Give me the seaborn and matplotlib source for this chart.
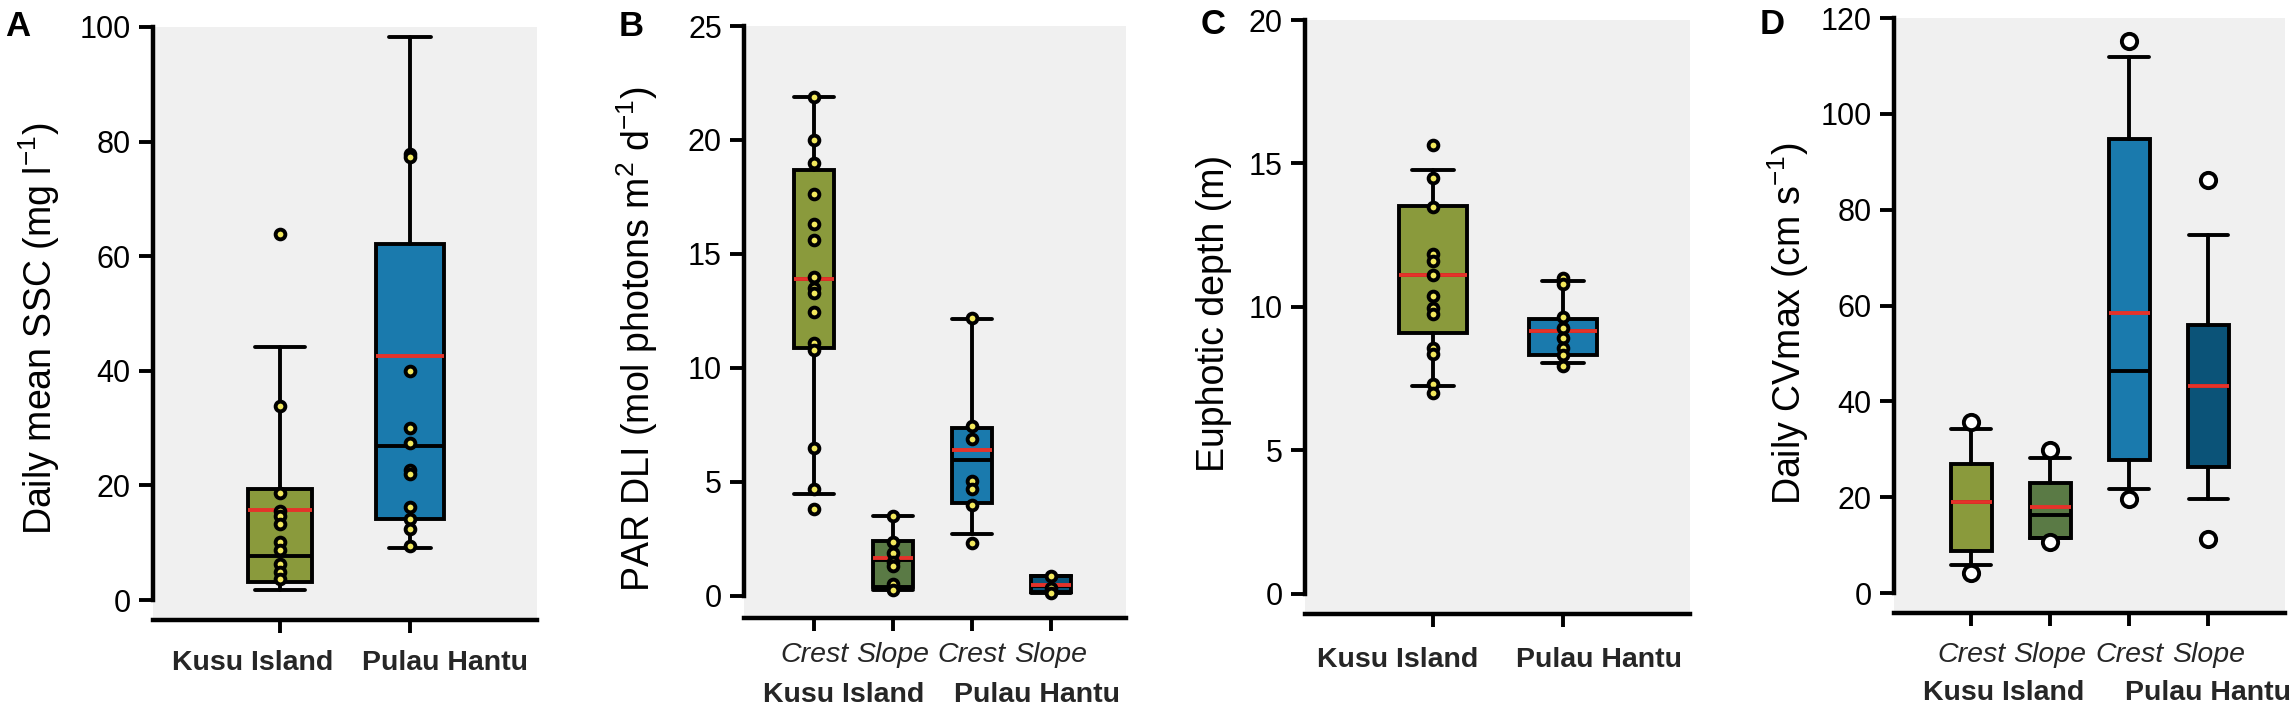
import matplotlib
matplotlib.use('Agg')
import matplotlib.pyplot as plt
import seaborn as sns
import numpy as np
import pandas as pd

sns.set_theme(style='white')
plt.rcParams['font.family'] = ['Liberation Sans', 'DejaVu Sans']
plt.rcParams['mathtext.fontset'] = 'custom'
plt.rcParams['mathtext.rm'] = 'Liberation Sans'
plt.rcParams['mathtext.it'] = 'Liberation Sans:italic'
plt.rcParams['mathtext.default'] = 'regular'

# ---------------- Panel A: Daily mean SSC ----------------
A_groups = ['Kusu Island', 'Pulau Hantu']
A_whislo = [1.7, 9.1]
A_q1 = [3.2, 14.1]
A_med = [7.7, 26.8]
A_mean = [15.7, 42.5]
A_q3 = [19.3, 62.1]
A_whishi = [44.1, 98.3]
A_pts_kusu = [63.9, 33.9, 18.7, 15.6, 14.7, 13.2, 10.2, 8.8, 6.3, 4.9, 3.7]
A_pts_hantu = [77.9, 77.3, 39.9, 30.1, 27.4, 22.7, 22.0, 16.2, 14.1, 12.4, 9.4]

# ---------------- Panel B: PAR DLI ----------------
B_groups = ['Kusu Crest', 'Kusu Slope', 'Hantu Crest', 'Hantu Slope']
B_ticklabels = ['Crest', 'Slope', 'Crest', 'Slope']
B_whislo = [4.47, 0.28, 2.72, 0.14]
B_q1 = [10.86, 0.38, 4.10, 0.18]
B_med = [13.9, 1.6, 5.98, 0.45]
B_mean = [13.9, 1.67, 6.41, 0.48]
B_q3 = [18.7, 2.4, 7.37, 0.87]
B_whishi = [21.9, 3.5, 12.15, 0.87]
B_pts_kusu_crest = [21.9, 20.0, 19.0, 17.65, 16.3, 15.6, 14.0, 13.5, 13.3, 12.45, 11.1, 10.8, 6.5, 4.7, 3.8]
B_pts_kusu_slope = [3.5, 2.36, 1.9, 1.5, 1.33, 0.54, 0.28]
B_pts_hantu_crest = [12.2, 7.45, 6.9, 5.06, 4.7, 4.0, 2.32]
B_pts_hantu_slope = [0.87, 0.34, 0.14]

# ---------------- Panel C: Euphotic depth ----------------
C_groups = ['Kusu Island', 'Pulau Hantu']
C_whislo = [7.26, 8.06]
C_q1 = [9.08, 8.33]
C_med = [11.1, 9.16]
C_mean = [11.1, 9.16]
C_q3 = [13.53, 9.59]
C_whishi = [14.76, 10.9]
C_pts_kusu = [15.63, 14.5, 13.49, 11.85, 11.6, 11.1, 10.38, 9.98, 9.75, 8.56, 8.37, 7.3, 7.02]
C_pts_hantu = [11.0, 10.8, 9.64, 9.27, 8.91, 8.56, 8.33, 7.93]

# ---------------- Panel D: Daily CVmax ----------------
D_groups = ['Kusu Crest', 'Kusu Slope', 'Hantu Crest', 'Hantu Slope']
D_ticklabels = ['Crest', 'Slope', 'Crest', 'Slope']
D_whislo = [5.86, 11.5, 21.7, 19.7]
D_q1 = [8.7, 11.5, 27.7, 26.2]
D_med = [18.9, 16.35, 46.3, 43.3]
D_mean = [18.9, 17.96, 58.4, 43.3]
D_q3 = [26.9, 22.9, 94.8, 56.0]
D_whishi = [34.3, 28.1, 111.8, 74.7]
D_fliers = [[35.7, 4.25], [29.8, 10.6], [115.3, 19.7], [86.2, 11.2]]

# ---------------- styling ----------------
OLIVE = '#8a9a3c'
GREEN = '#5a7a45'
BLUE = '#1a7aad'
DBLUE = '#0b5378'
BG = '#f0f0f0'
YELLOW = '#f2e85c'
RED = '#e5332a'
LW = 2.8

W, H = 2291, 709
fig = plt.figure(figsize=(W / 100, H / 100), dpi=100)


def rect(l, r, t, b):
    return [l / W, 1 - b / H, (r - l) / W, (b - t) / H]


def panel(r, groups, whislo, q1, med, mean, q3, whishi, colors, ymax, ystep,
          ybot, xlim, widths, capw, points=None, fliers=None):
    ax = fig.add_axes(r)
    ax.set_facecolor(BG)
    n = len(groups)
    stats = []
    for i in range(n):
        stats.append(dict(whislo=whislo[i], q1=q1[i], med=med[i], mean=mean[i],
                          q3=q3[i], whishi=whishi[i],
                          fliers=(fliers[i] if fliers else [])))
    bp = ax.bxp(stats, positions=list(range(n)), widths=widths, capwidths=capw,
                patch_artist=True, showmeans=True, meanline=True, showfliers=True,
                boxprops=dict(edgecolor='black', linewidth=LW),
                whiskerprops=dict(color='black', linewidth=LW),
                capprops=dict(color='black', linewidth=LW),
                medianprops=dict(color='black', linewidth=LW),
                meanprops=dict(color=RED, linewidth=LW, linestyle='-'),
                flierprops=dict(marker='o', markerfacecolor='white',
                                markeredgecolor='black', markersize=11,
                                markeredgewidth=2.8))
    for patch, c in zip(bp['boxes'], colors):
        patch.set_facecolor(c)
    if points is not None:
        rows = []
        for g, vals in zip(groups, points):
            for v in vals:
                rows.append((g, v))
        df = pd.DataFrame(rows, columns=['grp', 'val'])
        sns.stripplot(data=df, x='grp', y='val', order=groups, jitter=False,
                      color=YELLOW, edgecolor='black', linewidth=2.8, size=7,
                      ax=ax, zorder=5)
    ax.set_xlabel('')
    ax.set_ylabel('')
    ax.set_xlim(*xlim)
    ax.set_ylim(ybot, ymax)
    ax.set_yticks(np.arange(0, ymax + 0.01, ystep))
    ax.set_yticklabels([f'{int(v)}' for v in np.arange(0, ymax + 0.01, ystep)])
    ax.set_xticks(list(range(n)))
    ax.set_xticklabels([''] * n)
    for s in ['top', 'right']:
        ax.spines[s].set_visible(False)
    ax.spines['left'].set_bounds(0, ymax)
    for s in ['left', 'bottom']:
        ax.spines[s].set_linewidth(LW + 0.4)
        ax.spines[s].set_color('black')
    ax.tick_params(axis='y', direction='out', length=10, width=LW, pad=6,
                   labelsize=22, colors='black', left=True)
    ax.tick_params(axis='x', direction='out', length=9.5, width=LW,
                   colors='black', bottom=True)
    ax.grid(False)
    return ax


def xlab(ax, x, txt, off, **kw):
    ax.annotate(txt, xy=(x, 0), xycoords=('data', 'axes fraction'),
                xytext=(0, -off), textcoords='offset pixels', ha='center',
                va='center', annotation_clip=False, fontsize=20.5, **kw)


# Panel A
axA = panel(rect(153, 537, 27, 620), A_groups, A_whislo, A_q1, A_med, A_mean,
            A_q3, A_whishi, [OLIVE, BLUE], 100, 20, -3.49, (-0.977, 1.977),
            [0.49, 0.52], [0.39, 0.32], points=[A_pts_kusu, A_pts_hantu])
xlab(axA, -0.21, A_groups[0], 43, fontweight='bold')
xlab(axA, 1.27, A_groups[1], 43, fontweight='bold')

# Panel B
axB = panel(rect(744, 1126, 26, 618), B_groups, B_whislo, B_q1, B_med, B_mean,
            B_q3, B_whishi, [OLIVE, GREEN, BLUE, DBLUE], 25, 5, -0.965,
            (-0.886, 3.95), 0.5, 0.5,
            points=[B_pts_kusu_crest, B_pts_kusu_slope, B_pts_hantu_crest,
                    B_pts_hantu_slope])
for i, t in enumerate(B_ticklabels):
    xlab(axB, i, t, 37, style='italic')
xlab(axB, 0.37, 'Kusu Island', 77, fontweight='bold')
xlab(axB, 2.82, 'Pulau Hantu', 77, fontweight='bold')

# Panel C
axC = panel(rect(1305, 1690, 20, 614), C_groups, C_whislo, C_q1, C_med, C_mean,
            C_q3, C_whishi, [OLIVE, BLUE], 20, 5, -0.697, (-0.985, 1.977),
            0.52, 0.32, points=[C_pts_kusu, C_pts_hantu])
xlab(axC, -0.27, C_groups[0], 46, fontweight='bold')
xlab(axC, 1.28, C_groups[1], 46, fontweight='bold')

# Panel D
axD = panel(rect(1894, 2285, 18, 613), D_groups, D_whislo, D_q1, D_med, D_mean,
            D_q3, D_whishi, [OLIVE, GREEN, BLUE, DBLUE], 120, 20, -4.17,
            (-0.975, 3.97), 0.52, 0.5, fliers=D_fliers)
for i, t in enumerate(D_ticklabels):
    xlab(axD, i, t, 42, style='italic')
xlab(axD, 0.41, 'Kusu Island', 80, fontweight='bold')
xlab(axD, 3.0, 'Pulau Hantu', 80, fontweight='bold')

# y labels
def ylab(cx, cy, txt):
    fig.text(cx / W, 1 - cy / H, txt, rotation=90, ha='center', va='center',
             fontsize=27, color='black')

ylab(39, 329, 'Daily mean SSC (mg l$^{-1}$)')
ylab(637, 339, 'PAR DLI (mol photons m$^{2}$ d$^{-1}$)')
ylab(1214, 313, 'Euphotic depth (m)')
ylab(1788, 324, 'Daily CVmax (cm s$^{-1}$)')

# panel letters
for x, y, t in [(5, 10, 'A'), (619, 10, 'B'), (1201, 8, 'C'), (1760, 8, 'D')]:
    fig.text(x / W, 1 - y / H, t, ha='left', va='top', fontsize=25,
             fontweight='bold', color='black')

fig.savefig('out.png', dpi=100, facecolor='white')
